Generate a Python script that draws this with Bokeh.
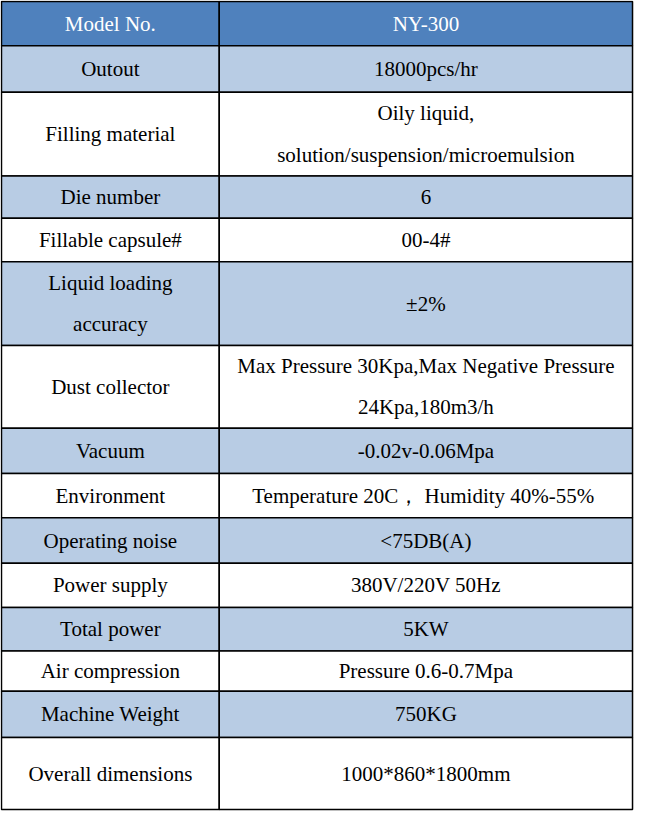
from bokeh.plotting import figure
from bokeh.models import ColumnDataSource
from bokeh.core.properties import value
from bokeh.embed import file_html
from bokeh.resources import INLINE

# ---- data ----
header_left = "Model No."
header_right = "NY-300"
labels = [
    ["Outout"],
    ["Filling material"],
    ["Die number"],
    ["Fillable capsule#"],
    ["Liquid loading", "accuracy"],
    ["Dust collector"],
    ["Vacuum"],
    ["Environment"],
    ["Operating noise"],
    ["Power supply"],
    ["Total power"],
    ["Air compression"],
    ["Machine Weight"],
    ["Overall dimensions"],
]
values = [
    ["18000pcs/hr"],
    ["Oily liquid,", "solution/suspension/microemulsion"],
    ["6"],
    ["00-4#"],
    ["±2%"],
    ["Max Pressure 30Kpa,Max Negative Pressure", "24Kpa,180m3/h"],
    ["-0.02v-0.06Mpa"],
    ["Temperature 20C，  Humidity 40%-55%"],
    ["<75DB(A)"],
    ["380V/220V 50Hz"],
    ["5KW"],
    ["Pressure 0.6-0.7Mpa"],
    ["750KG"],
    ["1000*860*1800mm"],
]

# ---- layout (reference pixel grid) ----
X0, XM, X1 = 5, 225.5, 644
row_edges = [3, 48, 95, 180, 223, 267, 352, 436, 482, 527, 573, 618, 662, 703, 750, 823]
LINE_GAP = 42
HEADER_BG = "#4F81BD"
LIGHT_BG = "#B8CCE4"
FONT = "Liberation Serif"
FS = "21px"

p = figure(width=634, height=811, x_range=(4, 646), y_range=(825, 2),
           output_backend="svg", toolbar_location=None, min_border=0)
p.axis.visible = False
p.grid.visible = False
p.outline_line_color = None
p.background_fill_color = "white"
p.border_fill_color = "white"

# cells
lefts, rights, tops, bottoms, fills = [], [], [], [], []
n_rows = len(row_edges) - 1
for i in range(n_rows):
    if i == 0:
        c = HEADER_BG
    elif i % 2 == 1:
        c = LIGHT_BG
    else:
        c = "white"
    for (a, b) in [(X0, XM), (XM, X1)]:
        lefts.append(a); rights.append(b)
        tops.append(row_edges[i]); bottoms.append(row_edges[i + 1])
        fills.append(c)
p.quad(left=lefts, right=rights, top=tops, bottom=bottoms, fill_color=fills,
       line_color="black", line_width=1.5)

# texts
tx, ty, tt, tc = [], [], [], []
all_left = [[header_left]] + labels
all_right = [[header_right]] + values
for i in range(n_rows):
    yc = (row_edges[i] + row_edges[i + 1]) / 2
    color = "white" if i == 0 else "black"
    for col, lines in ((0, all_left[i]), (1, all_right[i])):
        xc = (X0 + XM) / 2 if col == 0 else (XM + X1) / 2
        n = len(lines)
        for k, s in enumerate(lines):
            tx.append(xc)
            ty.append(yc + (k - (n - 1) / 2) * LINE_GAP)
            tt.append(s)
            tc.append(color)
src = ColumnDataSource(dict(x=tx, y=ty, text=tt, color=tc))
p.text(x="x", y="y", text="text", source=src, text_color="color",
       text_font=value(FONT), text_font_size=FS,
       text_align="center", text_baseline="middle")

open("out.html", "w").write(file_html(p, INLINE))
